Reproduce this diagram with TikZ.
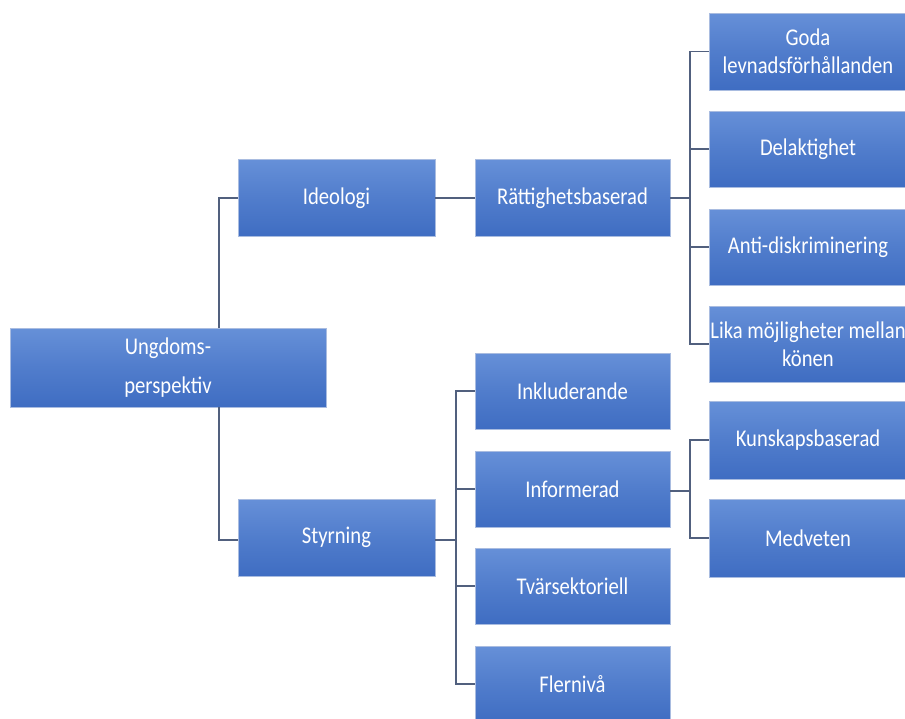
\documentclass[tikz,border=0pt]{standalone}
\usepackage{fontspec}
\setmainfont[FakeStretch=0.86]{Carlito}
\definecolor{boxtop}{HTML}{6690D8}
\definecolor{boxbot}{HTML}{3F6DC2}
\definecolor{boxedge}{HTML}{A9BCE0}
\definecolor{conn}{HTML}{51607E}
\tikzset{
  x=1pt, y=-1pt,
  tbox/.style={rectangle, minimum height=77pt, inner sep=0pt, text=white,
    top color=boxtop, bottom color=boxbot, middle color=boxtop!45!boxbot, draw=boxedge, line width=0.6pt,
    align=center, font=\fontsize{24}{28}\selectfont},
  c1/.style={tbox, minimum width=197pt},
  c2/.style={tbox, minimum width=195pt},
  c3/.style={tbox, minimum width=198pt},
  link/.style={draw=conn, line width=1.4pt}
}
\begin{document}
\begin{tikzpicture}
\useasboundingbox (0,0) rectangle (905,718);
\node[tbox, minimum width=316pt, minimum height=79pt, font=\fontsize{24}{39}\selectfont] (ung) at (168,367.5) {Ungdoms-\\perspektiv};
\node[c1] (ideo) at (336.5,198) {Ideologi};
\node[c1] (styr) at (336.5,537.5) {Styrning};
\node[c2] (rat) at (572.5,198) {Rättighetsbaserad};
\node[c2, minimum height=76pt] (inkl) at (572.5,391) {Inkluderande};
\node[c2, minimum height=76pt] (info) at (572.5,489) {Informerad};
\node[c2, minimum height=76pt] (tvar) at (572.5,586) {Tvärsektoriell};
\node[c2, minimum height=76pt] (fler) at (572.5,684) {Flernivå};
\node[c3] (goda) at (808,51.5) {Goda\\levnadsförhållanden};
\node[c3, minimum height=76pt] (del) at (808,149) {Delaktighet};
\node[c3, minimum height=76pt] (anti) at (808,247) {Anti-diskriminering};
\node[c3, minimum height=76pt] (lika) at (808,344) {Lika möjligheter mellan\\könen};
\node[c3, minimum height=78pt] (kuns) at (808,440) {Kunskapsbaserad};
\node[c3, minimum height=78pt] (med) at (808,538) {Medveten};

\coordinate (ju) at (219,367.5);
\coordinate (jr) at (690,198);
\coordinate (js) at (456,540);
\coordinate (ji) at (690,491);

\draw[link] (ideo.west) -| (ju |- ung.north);
\draw[link] (ju |- ung.south) |- (js -| styr.west);
\draw[link] (ideo.east) -- (rat.west);
\foreach \t in {goda,del,anti,lika}{
  \draw[link] (rat.east) -- (jr) |- (\t.west);
}
\foreach \t in {inkl,info,tvar,fler}{
  \draw[link] (js -| styr.east) -- (js) |- (\t.west);
}
\foreach \t in {kuns,med}{
  \draw[link] (ji -| info.east) -- (ji) |- (\t.west);
}
\end{tikzpicture}
\end{document}
